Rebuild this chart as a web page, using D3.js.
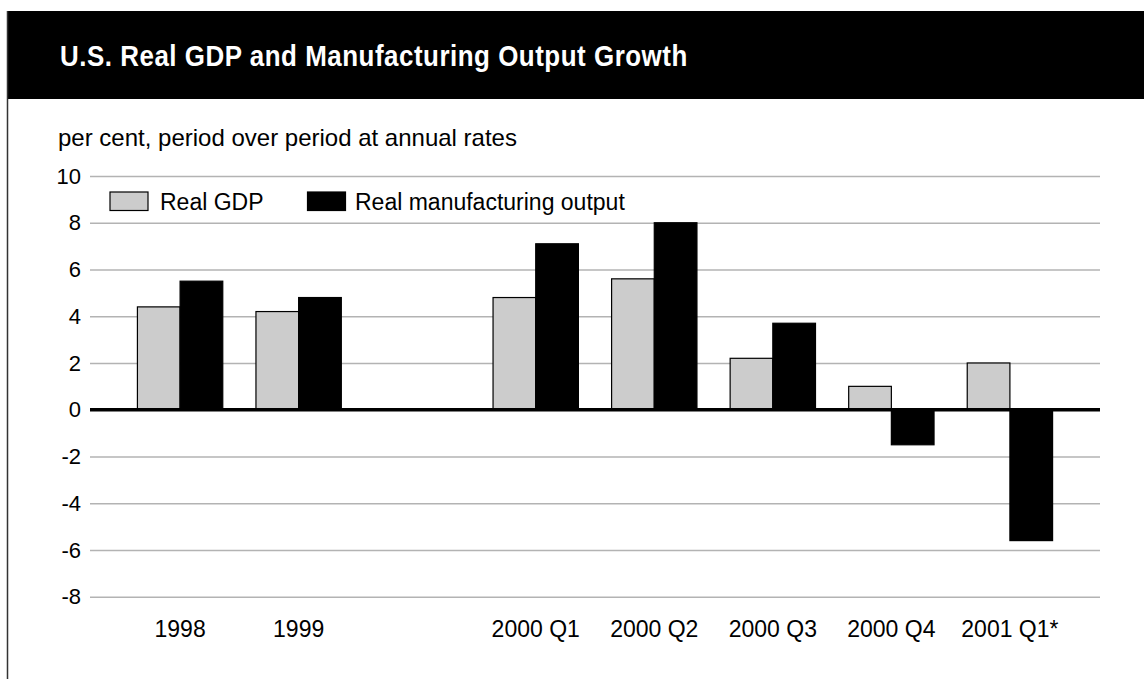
<!DOCTYPE html>
<html>
<head>
<meta charset="utf-8">
<script src="https://cdn.jsdelivr.net/npm/d3@7"></script>
<style>
  html, body { margin: 0; padding: 0; background: #fff; }
  svg { display: block; }
  .sans { font-family: "Liberation Sans", Arial, Helvetica, sans-serif; }
</style>
</head>
<body>
<svg id="chart" width="1144" height="679"></svg>
<script>
// Periods shown on the x axis; the blank slot separates annual from quarterly figures.
const periods = ["1998", "1999", "", "2000 Q1", "2000 Q2", "2000 Q3", "2000 Q4", "2001 Q1*"];
// Growth, per cent, period over period at annual rates (null = no bar).
const realGDP = [4.4, 4.2, null, 4.8, 5.6, 2.2, 1.0, 2.0];
const realManufacturing = [5.5, 4.8, null, 7.1, 8.0, 3.7, -1.5, -5.6];
const seriesNames = ["Real GDP", "Real manufacturing output"];
const yTicks = [-8, -6, -4, -2, 0, 2, 4, 6, 8, 10];

const titleText = "U.S. Real GDP and Manufacturing Output Growth";
const subtitleText = "per cent, period over period at annual rates";

const W = 1144, H = 679;
const plot = { left: 90, right: 1100, top: 176, bottom: 596.7 };
const colors = { gdp: "#cccccc", mfg: "#000000" };

const svg = d3.select("#chart");
svg.append("rect").attr("width", W).attr("height", H).attr("fill", "#fff");

// Header band
svg.append("rect")
  .attr("x", 7).attr("y", 11).attr("width", W - 7).attr("height", 88)
  .attr("fill", "#000");
// Left frame rule
svg.append("line")
  .attr("x1", 7.5).attr("x2", 7.5).attr("y1", 11).attr("y2", H)
  .attr("stroke", "#333").attr("stroke-width", 1.5);

// Title: bold face squeezed horizontally into a condensed look
const titleX = 60, titleY = 66, titleWidth = 628;
const title = svg.append("text")
  .attr("x", 0).attr("y", 0)
  .attr("fill", "#fff")
  .attr("font-family", "'Liberation Sans', Arial, sans-serif")
  .attr("font-weight", "bold")
  .attr("font-size", 30)
  .attr("letter-spacing", 0.6)
  .text(titleText);
(function fitTitle() {
  const len = title.node().getComputedTextLength();
  const sx = titleWidth / len;
  title.attr("transform", `translate(${titleX},${titleY}) scale(${sx},1)`);
})();

// Subtitle
svg.append("text")
  .attr("class", "sans")
  .attr("x", 58).attr("y", 146)
  .attr("font-size", 24)
  .attr("fill", "#000")
  .text(subtitleText);

// Scales
const data = periods.map((p, i) => ({ period: p, key: "slot" + i, gdp: realGDP[i], mfg: realManufacturing[i] }));

const x = d3.scaleBand()
  .domain(data.map(d => d.key))
  .range([plot.left, plot.right])
  .paddingInner(0.28)
  .paddingOuter(0.4);

const xInner = d3.scaleBand()
  .domain(["gdp", "mfg"])
  .range([0, x.bandwidth()])
  .padding(0);

const y = d3.scaleLinear()
  .domain([-8, 10])
  .range([plot.bottom, plot.top]);

// Y axis with gridlines
const yAxis = svg.append("g")
  .attr("transform", `translate(${plot.left},0)`)
  .call(d3.axisLeft(y)
    .tickValues(yTicks)
    .tickFormat(d => String(d))
    .tickSize(-(plot.right - plot.left))
    .tickPadding(9));
yAxis.select(".domain").remove();
yAxis.selectAll(".tick line")
  .attr("stroke", "#b3b3b3")
  .attr("stroke-width", 1.5);
yAxis.selectAll(".tick text")
  .attr("class", "sans")
  .attr("font-size", 22)
  .attr("fill", "#000");

// Bars
const groups = svg.append("g")
  .selectAll("g")
  .data(data.filter(d => d.gdp !== null))
  .join("g")
  .attr("transform", d => `translate(${x(d.key)},0)`);

groups.selectAll("rect")
  .data(d => ["gdp", "mfg"].map(s => ({ s, v: d[s] })))
  .join("rect")
  .attr("x", d => xInner(d.s))
  .attr("width", xInner.bandwidth())
  .attr("y", d => y(Math.max(0, d.v)))
  .attr("height", d => Math.abs(y(d.v) - y(0)))
  .attr("fill", d => colors[d.s])
  .attr("stroke", "#000")
  .attr("stroke-width", 1.2);

// Zero line
svg.append("line")
  .attr("x1", plot.left).attr("x2", plot.right)
  .attr("y1", y(0)).attr("y2", y(0))
  .attr("stroke", "#000")
  .attr("stroke-width", 3.5);

// X axis labels
const xAxis = svg.append("g")
  .attr("transform", `translate(0,${plot.bottom})`)
  .call(d3.axisBottom(x)
    .tickSize(0)
    .tickPadding(24)
    .tickFormat(k => data.find(d => d.key === k).period));
xAxis.select(".domain").remove();
xAxis.selectAll(".tick text")
  .attr("class", "sans")
  .attr("font-size", 23)
  .attr("fill", "#000");

// Legend
const legend = svg.append("g");
const legendItems = [
  { name: seriesNames[0], color: colors.gdp, x: 110, tx: 160 },
  { name: seriesNames[1], color: colors.mfg, x: 307.5, tx: 355 }
];
legendItems.forEach(it => {
  legend.append("rect")
    .attr("x", it.x).attr("y", 192)
    .attr("width", 38).attr("height", 18.5)
    .attr("fill", it.color)
    .attr("stroke", "#000").attr("stroke-width", 1.2);
  legend.append("text")
    .attr("class", "sans")
    .attr("x", it.tx).attr("y", 210)
    .attr("font-size", 23)
    .attr("fill", "#000")
    .text(it.name);
});
</script>
</body>
</html>
